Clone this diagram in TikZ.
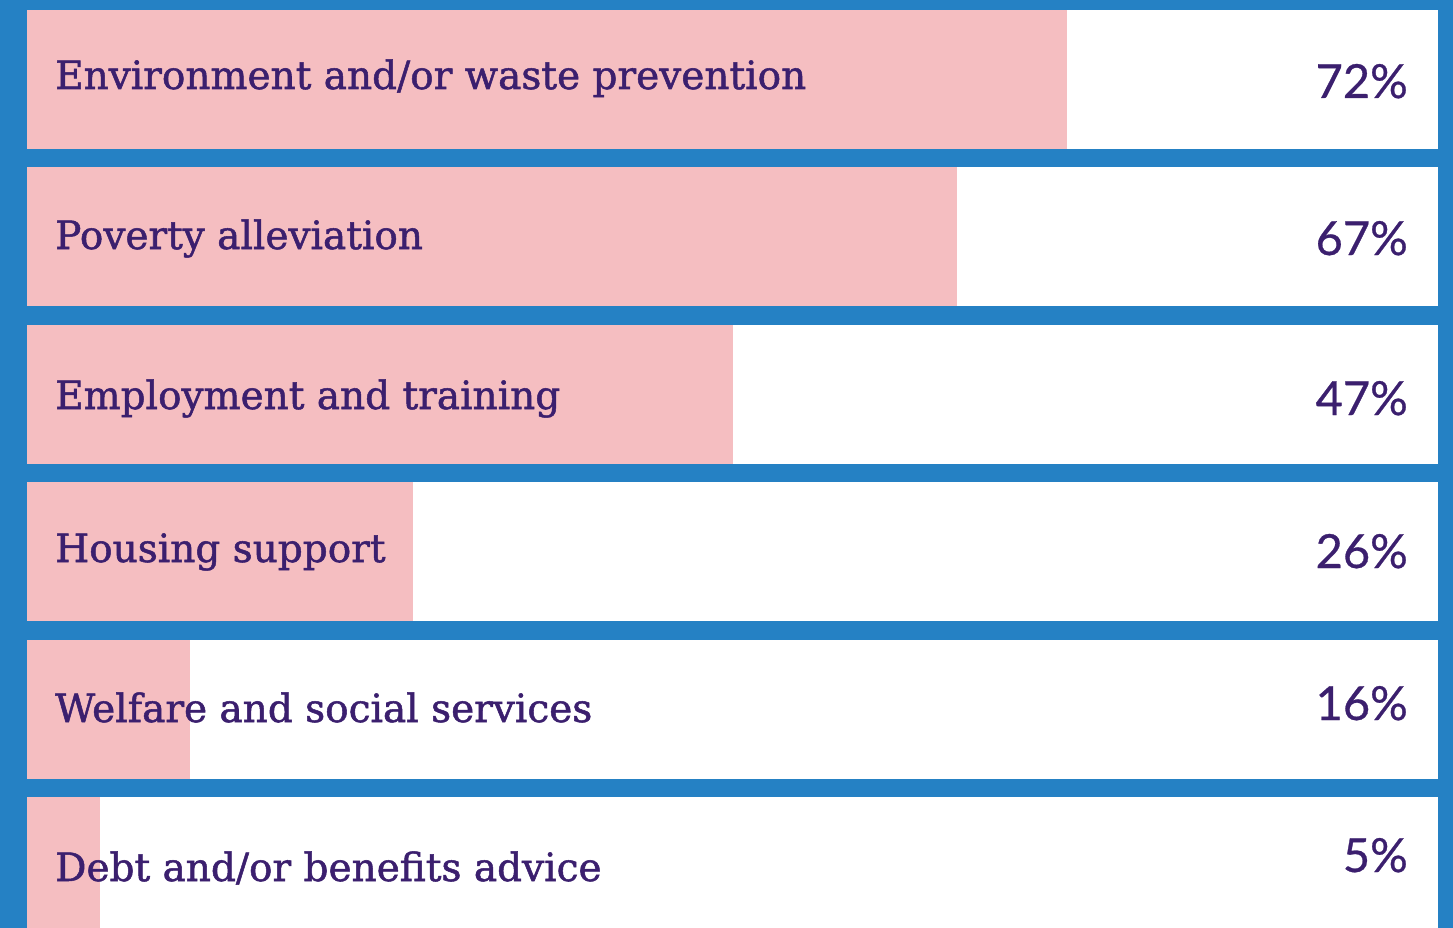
\documentclass[tikz,border=0pt]{standalone}
\usepackage{fontspec}
\newfontfamily\labfont[FakeBold=1.3]{DejaVu Serif}
\newfontfamily\pctfont[FakeBold=0.6]{Lato}
\definecolor{bgblue}{HTML}{2581C4}
\definecolor{barpink}{HTML}{F5BEC1}
\definecolor{txtpurple}{HTML}{3B1F6E}
\begin{document}
\begin{tikzpicture}[x=1pt,y=-1pt,
  rowbox/.style={fill=white,draw=none},
  barbox/.style={fill=barpink,draw=none},
  lab/.style={anchor=base west,inner sep=0pt,text=txtpurple,font=\labfont\fontsize{39}{42}\selectfont},
  pct/.style={anchor=base east,inner sep=0pt,text=txtpurple,font=\pctfont\fontsize{47}{50}\selectfont}]
\useasboundingbox (0,0) rectangle (1453,928);
\fill[bgblue] (0,0) rectangle (1453,928);
% rows
\foreach \t/\b/\e in {10/149/1067,167/306/957,325/464/733,482/621/413,640/779/190,797/928/100}{
  \fill[rowbox] (27,\t) rectangle (1438,\b);
  \fill[barbox] (27,\t) rectangle (\e,\b);
}
\node[lab] (l1) at (55,89) {Environment and/or waste prevention};
\node[lab] (l2) at (55,249) {Poverty alleviation};
\node[lab] (l3) at (55,409) {Employment and training};
\node[lab] (l4) at (55,562) {Housing support};
\node[lab] (l5) at (55,722) {Welfare and social services};
\node[lab] (l6) at (55,881) {Debt and/or benefits advice};
\node[pct] (p1) at (1408,98) {72\%};
\node[pct] (p2) at (1408,255) {67\%};
\node[pct] (p3) at (1408,415) {47\%};
\node[pct] (p4) at (1408,568) {26\%};
\node[pct] (p5) at (1408,720) {16\%};
\node[pct] (p6) at (1408,872) {5\%};
\end{tikzpicture}
\end{document}
